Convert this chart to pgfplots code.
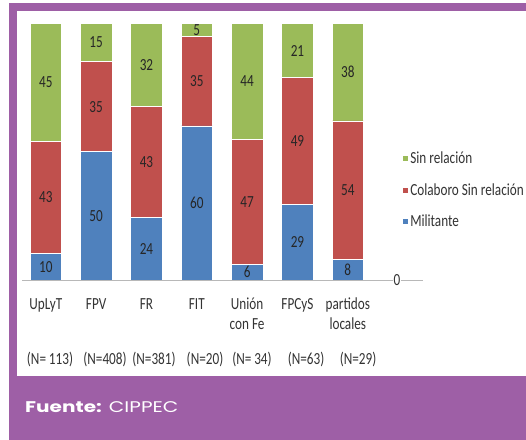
\documentclass[border=0pt]{standalone}
\usepackage{pgfplots}
\pgfplotsset{compat=1.18}
\usepackage{pgfplotstable}
\usepackage{fontspec}
\setmainfont{Carlito}[FakeStretch=0.78]
\newfontfamily\fuentefont{Poppins}[FakeStretch=1.3]

\definecolor{verde}{HTML}{9BBB59}
\definecolor{rojo}{HTML}{C0504D}
\definecolor{azul}{HTML}{4F81BD}
\definecolor{morado}{HTML}{9E5FA6}
\newcommand\cf{\fontsize{17}{20}\selectfont}

% x, Militante, Colaboro Sin relación, Sin relación
\pgfplotstableread{
x mil col sin
0 10 43 45
1 50 35 15
2 24 43 32
3 60 35 5
4 6 47 44
5 29 49 21
6 8 54 38
}\datos

\pgfplotsset{
  base/.style={
    at={(22bp,160bp)}, anchor=south west,
    scale only axis, width=401bp, height=256.7bp,
    xmin=-0.473, xmax=7.494, ymin=0, ymax=100,
  },
}

\begin{document}
\begin{tikzpicture}[x=1bp,y=1bp]
\useasboundingbox (0,0) rectangle (526,440);
\fill[white] (0,0) rectangle (526,440);
\fill[morado] (9,0) rectangle (526,437);
\fill[white] (17,64) rectangle (526,429);
\node[anchor=base west, inner sep=0, text=white, font=\fuentefont\fontsize{15.5}{18}\selectfont]
  at (25,27) {\textbf{Fuente:} CIPPEC};

\begin{axis}[base,
    ybar stacked, bar width=31.5bp,
    axis x line*=bottom, axis y line=none,
    x axis line style={draw=black!28, line width=0.9bp},
    xtick={0,...,6}, major tick length=0pt,
    xticklabels={UpLyT,FPV,FR,FIT,{Unión\\con Fe},FPCyS,{partidos\\locales}},
    typeset ticklabels with strut,
    xticklabel style={align=center, font=\cf, text=black!80, yshift=-12bp},
    legend style={at={(0.9476,0.3506)}, anchor=west, draw=none, fill=none,
      inner sep=0pt, font=\cf, text=black!80, row sep=15bp,
      nodes={inner sep=1.5bp}},
    legend cell align=left,
    reverse legend,
    legend image code/.code={\fill[#1] (0bp,-3bp) rectangle (6bp,3bp);},
    every axis plot/.append style={draw=white, line width=0.6bp},
  ]
\addplot[fill=azul] table[x=x, y expr={\thisrow{mil}*100/(\thisrow{mil}+\thisrow{col}+\thisrow{sin})}] {\datos};
\addplot[fill=rojo] table[x=x, y expr={\thisrow{col}*100/(\thisrow{mil}+\thisrow{col}+\thisrow{sin})}] {\datos};
\addplot[fill=verde] table[x=x, y expr={\thisrow{sin}*100/(\thisrow{mil}+\thisrow{col}+\thisrow{sin})}] {\datos};
\legend{Militante, Colaboro Sin relación, Sin relación}
\end{axis}

\begin{axis}[base, hide axis, clip=false,
    nodes near coords={\color{black!85}\pgfmathprintnumber[assume math mode=true]{\pgfplotspointmeta}},
    point meta=explicit,
    every node near coord/.append style={anchor=center, font=\cf},
  ]
\addplot[draw=none, mark=none] table[x=x, meta=mil,
  y expr={(\thisrow{mil}/2)*100/(\thisrow{mil}+\thisrow{col}+\thisrow{sin})}] {\datos};
\addplot[draw=none, mark=none] table[x=x, meta=col,
  y expr={(\thisrow{mil}+\thisrow{col}/2)*100/(\thisrow{mil}+\thisrow{col}+\thisrow{sin})}] {\datos};
\addplot[draw=none, mark=none] table[x=x, meta=sin,
  y expr={(\thisrow{mil}+\thisrow{col}+\thisrow{sin}/2)*100/(\thisrow{mil}+\thisrow{col}+\thisrow{sin})}] {\datos};
\end{axis}

% the stray "0" label sitting on the axis line
\node[fill=white, inner xsep=0.8bp, inner ysep=0bp, font=\cf, text=black!80] at (397,160) {0};

\begin{scope}[every node/.style={font=\cf, text=black!80, inner sep=0}]
\node at (50,81) {(N=\,113)};
\node at (105,81) {(N=408)};
\node at (154,81) {(N=381)};
\node at (205,81) {(N=20)};
\node at (252,81) {(N=\,34)};
\node at (306,81) {(N=63)};
\node at (358,81) {(N=29)};
\end{scope}
\end{tikzpicture}
\end{document}
